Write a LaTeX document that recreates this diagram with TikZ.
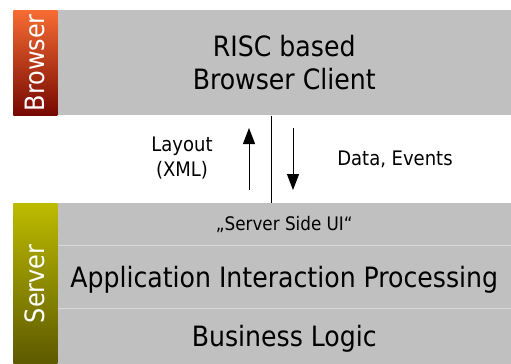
\documentclass[tikz,border=0pt]{standalone}
\usepackage{fontspec}
\setmainfont{DejaVu Sans Condensed}
\usetikzlibrary{arrows.meta}

\definecolor{layergray}{HTML}{C0C0C0}
\definecolor{rulegray}{HTML}{D9D9D9}
\definecolor{browsertop}{HTML}{F76C33}
\definecolor{browserbot}{HTML}{760800}
\definecolor{servertop}{HTML}{BDBB00}
\definecolor{serverbot}{HTML}{5C5900}

\tikzset{
  layer/.style={fill=layergray, inner sep=0pt, anchor=north west, align=center},
  tierbar/.style={inner sep=0pt, anchor=north west},
  tiername/.style={rotate=90, text=white, font=\fontsize{20}{24}\selectfont},
  flow/.style={-{Triangle[length=12pt,width=9pt]}, line width=0.75pt},
  note/.style={font=\fontsize{15}{19}\selectfont, align=center}
}

\begin{document}
\begin{tikzpicture}[x=0.75pt, y=-0.75pt]
  \useasboundingbox (0,0) rectangle (511,364);

  % client tier
  \node[layer, minimum width=340.5pt, minimum height=78.75pt, font=\fontsize{21}{25}\selectfont] (browser) at (57,10) {RISC based\\Browser Client};
  \node[tierbar, minimum width=33pt, minimum height=78.75pt, top color=browsertop, bottom color=browserbot] (browserbar) at (13,10) {};
  \node[tiername] at (browserbar.center) {Browser};

  % server tier, three rows
  \node[layer, minimum width=340.5pt, minimum height=31.5pt, font=\fontsize{14}{17}\selectfont] (ui) at (57,203) {„Server Side UI“};
  \node[layer, minimum width=340.5pt, minimum height=47.25pt, text depth=0pt, font=\fontsize{21}{25}\selectfont] (aip) at (57,245) {Application Interaction Processing};
  \node[layer, minimum width=340.5pt, minimum height=42pt, text depth=0pt, font=\fontsize{21}{25}\selectfont] (logic) at (57,308) {Business Logic};
  \draw[rulegray, line width=0.75pt] (ui.south west) -- (ui.south east);
  \draw[rulegray, line width=0.75pt] (aip.south west) -- (aip.south east);
  \node[tierbar, minimum width=33pt, minimum height=120.75pt, top color=servertop, bottom color=serverbot] (serverbar) at (13,203) {};
  \node[tiername] at (serverbar.center) {Server};

  % link between tiers
  \coordinate (link) at (271,0);
  \draw[line width=0.75pt] (browser.south -| link) -- (ui.north -| link);

  \coordinate (upfrom) at (249,190);
  \coordinate (upto) at (249,128);
  \coordinate (downfrom) at (293,128);
  \coordinate (downto) at (293,190);
  \draw[flow] (upfrom) -- (upto);
  \draw[flow] (downfrom) -- (downto);

  \node[note] (layout) at (182,158) {Layout\\(XML)};
  \node[note] (events) at (395,159) {Data, Events};
\end{tikzpicture}
\end{document}
